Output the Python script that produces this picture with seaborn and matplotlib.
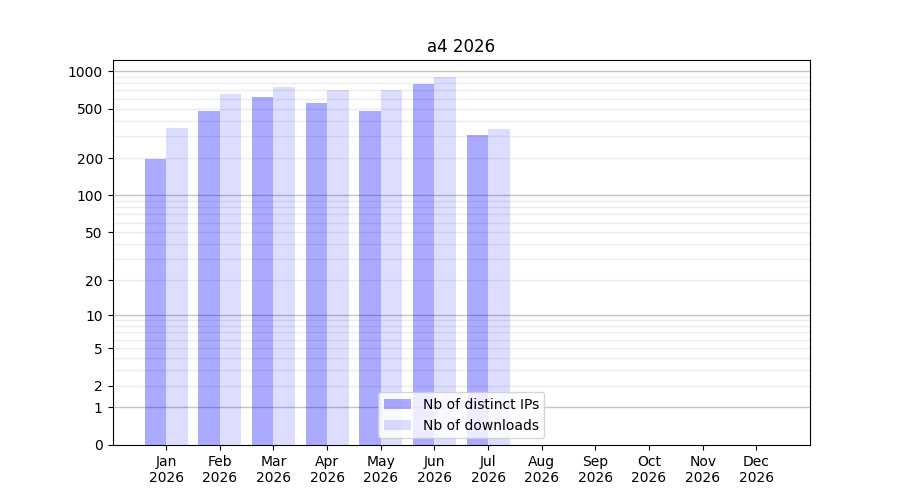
import numpy as np
import pandas as pd
import matplotlib
matplotlib.use("Agg")
import matplotlib.pyplot as plt
import seaborn as sns
from matplotlib.ticker import FixedLocator, FixedFormatter, NullLocator

months = ["Jan", "Feb", "Mar", "Apr", "May", "Jun", "Jul", "Aug", "Sep", "Oct", "Nov", "Dec"]
year = "2026"
distinct_ips = [198, 483, 626, 550, 483, 783, 309, 0, 0, 0, 0, 0]
downloads = [352, 650, 740, 700, 700, 891, 340, 0, 0, 0, 0, 0]
series_labels = ["Nb of distinct IPs", "Nb of downloads"]
ytick_values = [0, 1, 2, 5, 10, 20, 50, 100, 200, 500, 1000]

df = pd.DataFrame({
    "month": months * 2,
    "series": [series_labels[0]] * len(months) + [series_labels[1]] * len(months),
    "value": distinct_ips + downloads,
})

fig, ax = plt.subplots(figsize=(9, 5), dpi=100)

def fwd(x):
    x = np.asarray(x, dtype=float)
    return np.sign(x) * np.log10(1 + np.abs(x))

def inv(y):
    y = np.asarray(y, dtype=float)
    return np.sign(y) * (10 ** np.abs(y) - 1)

sns.barplot(data=df, x="month", y="value", hue="series", order=months,
            hue_order=series_labels, palette=["blue", "blue"], width=0.8,
            linewidth=0, legend=False, ax=ax, errorbar=None)

alphas = [0.333, 0.133]
for cont, a in zip(ax.containers, alphas):
    for p in cont:
        p.set_facecolor((0, 0, 1, a))
        p.set_edgecolor("none")

ax.set_yscale("function", functions=(fwd, inv))
ax.set_ylim(0, 1230)
ax.set_xlim(-1, len(months))

# grid lines
for dec in [1, 10, 100, 1000]:
    ax.axhline(dec, color="#c4c4c4", lw=1, zorder=0)
    for k in range(2, 10):
        v = dec * k
        if v < 1230:
            ax.axhline(v, color="#ececec", lw=1, zorder=0)

ax.yaxis.set_major_locator(FixedLocator(ytick_values))
ax.yaxis.set_major_formatter(FixedFormatter([str(v) for v in ytick_values]))
ax.yaxis.set_minor_locator(NullLocator())

ax.set_xticks(range(len(months)))
ax.set_xticklabels([f"{m}\n{year}" for m in months])
ax.set_xlabel("")
ax.set_ylabel("")
ax.set_title("a4 2026")

ax.legend(ax.containers, series_labels, loc="lower center")

fig.savefig("out.png", dpi=100)
